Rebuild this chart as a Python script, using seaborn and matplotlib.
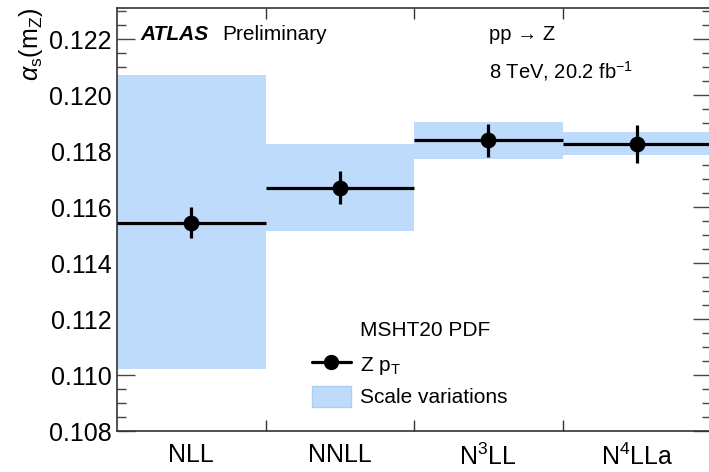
import matplotlib
matplotlib.use("Agg")
import matplotlib.pyplot as plt
import seaborn as sns
import numpy as np
import pandas as pd
from matplotlib.ticker import MultipleLocator, FormatStrFormatter
from matplotlib.lines import Line2D
from matplotlib.patches import Patch

# ---- data ----
orders = ["NLL", "NNLL", "N$^3$LL", "N$^4$LLa"]
alphas = [0.11545, 0.11670, 0.11839, 0.11826]
alphas_err = [0.00055, 0.00058, 0.00059, 0.00067]
band_low = [0.11020, 0.11515, 0.11773, 0.11785]
band_high = [0.12073, 0.11826, 0.11903, 0.11867]

sns.set_theme(style="ticks")
plt.rcParams["font.family"] = ["Liberation Sans", "DejaVu Sans"]
plt.rcParams["mathtext.fontset"] = "custom"
plt.rcParams["mathtext.rm"] = "Liberation Sans"
plt.rcParams["mathtext.it"] = "Liberation Sans:italic"
plt.rcParams["mathtext.bf"] = "Liberation Sans:bold"
plt.rcParams["text.color"] = "black"
plt.rcParams["xtick.labelcolor"] = "black"
plt.rcParams["ytick.labelcolor"] = "black"

W, H = 709, 472
fig = plt.figure(figsize=(W / 100, H / 100), dpi=100)
ax = fig.add_axes([117 / W, 41 / H, 594 / W, (431 - 8) / H])

def fx(px):
    return px / W

def fy(py):
    return 1 - py / H

band_color = "#bfdbfb"
df = pd.DataFrame({"order": orders, "x": np.arange(len(orders)), "alpha": alphas,
                   "err": alphas_err, "lo": band_low, "hi": band_high})

# scale-variation bands
ax.bar(df["x"], df["hi"] - df["lo"], bottom=df["lo"], width=1.0,
       color=band_color, edgecolor="none", zorder=1)
# horizontal lines spanning each bin
ax.hlines(df["alpha"], df["x"] - 0.5, df["x"] + 0.5, color="black", lw=2.3, zorder=3)
# error bars
ax.errorbar(df["x"], df["alpha"], yerr=df["err"], fmt="none", ecolor="black",
            elinewidth=2.3, capsize=0, zorder=4)
# points
sns.scatterplot(data=df, x="x", y="alpha", ax=ax, color="black", s=130,
                edgecolor="black", linewidth=0, zorder=5, legend=False)

ax.set_xlim(-0.5, 3.5)
ax.set_ylim(0.108, 0.12312)
ax.set_xlabel("")
ax.set_ylabel("")

ax.set_xticks(df["x"])
ax.set_xticklabels(orders, fontsize=18)
ax.set_xticks([0.5, 1.5, 2.5], minor=True)
ax.tick_params(axis="x", which="major", length=0, pad=9)
ax.tick_params(axis="x", which="minor", direction="in", length=8, width=1.0,
               top=True, bottom=True, color="#333333")

ax.yaxis.set_major_locator(MultipleLocator(0.002))
ax.yaxis.set_minor_locator(MultipleLocator(0.0005))
ax.yaxis.set_major_formatter(FormatStrFormatter("%.3f"))
ax.tick_params(axis="y", which="major", direction="in", length=13, width=1.0,
               left=True, right=True, labelsize=18, pad=4, color="#444444")
ax.tick_params(axis="y", which="minor", direction="in", length=6.5, width=1.0,
               left=True, right=True, color="#444444")

for s in ax.spines.values():
    s.set_linewidth(1.2)
    s.set_color("#333333")

# y label
fig.text(fx(31), fy(8), r"$\alpha_{\mathrm{s}}(\mathrm{m}_{\mathrm{Z}})$", rotation=90,
         ha="center", va="top", fontsize=18)

# annotations
fig.text(fx(140), fy(35), "ATLAS", fontsize=15, fontweight="bold",
         fontstyle="italic", va="center", ha="left")
fig.text(fx(222), fy(35), "Preliminary", fontsize=15, va="center", ha="left")
fig.text(fx(489), fy(34), "pp \u2192 Z", fontsize=14.5, va="center", ha="left")
fig.text(fx(489), fy(71), r"8 TeV, 20.2 fb$^{\mathrm{-1}}$", fontsize=14.5,
         va="center", ha="left")

# legend
fig.text(fx(360), fy(330), "MSHT20 PDF", fontsize=15, va="center", ha="left")
handles = [Line2D([0], [0], color="black", lw=2.3, marker="o", markersize=10),
           Patch(facecolor=band_color, edgecolor="#a9cdf5")]
leg = ax.legend(handles, [r"Z p$_{\mathrm{T}}$", "Scale variations"],
                loc="upper left",
                bbox_to_anchor=(fx(308), fy(349)), bbox_transform=fig.transFigure,
                frameon=False, fontsize=15,
                handlelength=1.85, handleheight=1.15, handletextpad=0.45,
                labelspacing=0.45, borderpad=0.2, borderaxespad=0)

fig.savefig("out.png", dpi=100)
